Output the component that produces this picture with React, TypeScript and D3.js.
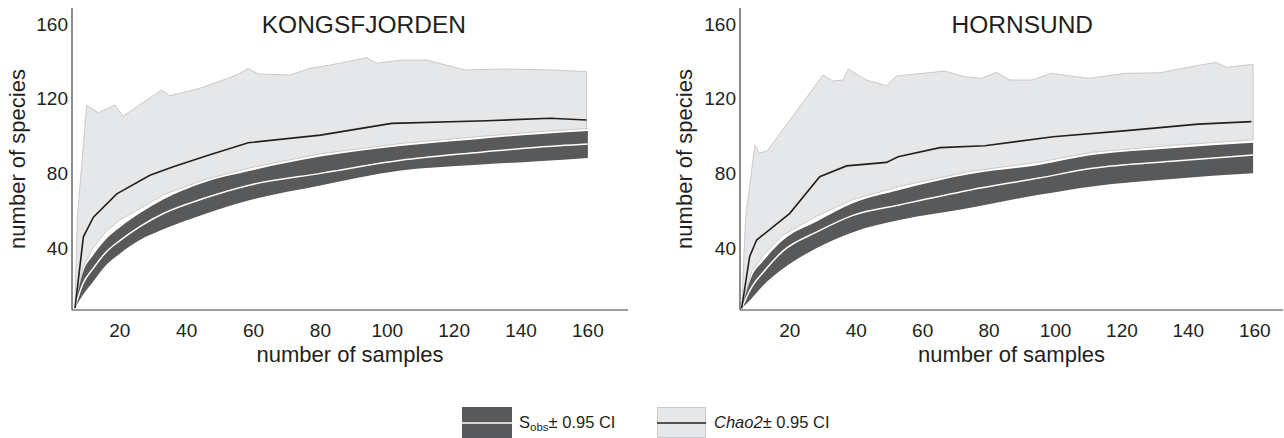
import * as d3 from 'd3';

// ---- data ----
const xTicks = [20, 40, 60, 80, 100, 120, 140, 160];
const yTicks = [40, 80, 120, 160];

// Kongsfjorden
const kSobsX = [6.5, 9, 12, 16, 20, 26, 33, 45, 59, 80, 104, 126, 145, 160];
const kSobsUpper = [7.8, 27, 36, 45, 51, 58.6, 66, 75, 81.4, 89, 94.7, 98.2, 101, 102.7];
const kSobsMean = [7.8, 21, 29, 38, 44, 51.5, 58.5, 66.5, 73.8, 80, 87, 91, 94, 95.7];
const kSobsLower = [7.8, 15, 22, 31, 37, 44.3, 50, 58, 65.7, 73.5, 81.5, 84.5, 86.5, 88.3];
const kChaoLower = [7.8, 30, 40, 49, 55, 61, 68.5, 76.5, 83, 90.5, 96, 99.5, 102.3, 104];
const kChaoUpperX = [6.6, 7.3, 10.1, 13.6, 18.5, 21, 32.5, 35, 44, 55, 58.4, 61.4, 70.9, 76.9, 82.9, 93.8, 96.8, 104.3, 111.8, 123.2, 135.2, 149.2, 159.6];
const kChaoUpper = [7.8, 56.6, 116.6, 112.5, 116.6, 110.7, 124.7, 121.6, 125.6, 132.7, 136.3, 133.2, 132.7, 136.3, 138, 142, 139, 140.7, 140.7, 135.4, 135.9, 135.4, 134.5];
const kChaoMeanX = [6.6, 9.1, 12.1, 19.1, 29, 36, 46, 58.4, 80, 101.3, 129.7, 148.7, 159.6];
const kChaoMean = [7.8, 46, 56.5, 69, 79, 83.6, 89.5, 96.4, 100.5, 106.8, 108.2, 109.5, 108.6];

// Hornsund
const hSobsX = [5.5, 8.5, 12, 18, 28, 39, 53, 74, 95, 111, 135, 159.5];
const hSobsUpper = [7.7, 24.6, 33, 44.3, 54.1, 64, 71.1, 79.5, 84.5, 89.8, 93.5, 96.4];
const hSobsMean = [7.7, 19, 27, 38.5, 48.5, 57.5, 63.1, 71, 77.5, 82.7, 86.5, 89.8];
const hSobsLower = [7.7, 13, 20, 29, 39.9, 48.5, 55, 61.5, 68.5, 73, 77, 80];
const hChaoLower = [7.7, 27.5, 36, 47, 57, 66, 73, 81, 86, 91.3, 95, 98];
const hChaoUpperX = [5.5, 6.7, 9.5, 10.8, 13.2, 30, 32.9, 36, 37.6, 43.1, 49.1, 52.1, 66.7, 72.7, 77.7, 82.3, 86.3, 92.8, 98.8, 109.9, 121.4, 131.4, 142.5, 148.3, 151.5, 159.5];
const hChaoUpper = [7.7, 56.8, 95.2, 91, 92, 132.7, 129.5, 130, 135.9, 130, 127, 132.2, 134.8, 131.8, 130.9, 134.1, 130, 130, 133.6, 130.9, 133.6, 133.9, 137.7, 139.5, 136.8, 138.4];
const hChaoMeanX = [5.5, 7.9, 10, 20, 29, 37.1, 49.1, 52.6, 65.2, 78.7, 99.3, 121.4, 143, 159];
const hChaoMean = [7.7, 35.4, 44.3, 58.6, 78.2, 84, 85.9, 88.9, 93.8, 94.8, 99.6, 102.9, 106.4, 107.7];

const DARK = '#58595b';
const LIGHT = '#e6e7e8';
const LIGHT_EDGE = '#c9cacc';
const INK = '#231f20';
const FONT = '"Liberation Sans", Arial, sans-serif';

function interp(xs, ys, x) {
  // closes the Chao band at the last x of its upper edge
  return d3.scaleLinear().domain(xs).range(ys).clamp(true)(x);
}

function Panel({ title, titleAt, left, right, xMin, xMax, labelX, sobsX, sobsUpper, sobsMean, sobsLower, chaoLower, chaoUpperX, chaoUpper, chaoMeanX, chaoMean }) {
  const x = d3.scaleLinear().domain([xMin, xMax]).range([left, right]);
  const y = d3.scaleLinear().domain([6.8, 168.6]).range([310, 8]);

  // chao band: upper edge on its own grid, lower edge on the sobs grid
  const upperPts = chaoUpperX.map((v, i) => [x(v), y(chaoUpper[i])]);
  const lowerPts = sobsX.map((v, i) => [x(v), y(chaoLower[i])]).reverse();
  const lastX = chaoUpperX[chaoUpperX.length - 1];
  const chaoPath = d3.line()([...upperPts, [x(lastX), y(interp(sobsX, chaoLower, lastX))], ...lowerPts]) + 'Z';

  const band = d3
    .area()
    .x((d) => x(d[0]))
    .y0((d) => y(d[2]))
    .y1((d) => y(d[1]))
    .curve(d3.curveMonotoneX);
  const sobsRows = sobsX.map((v, i) => [v, sobsUpper[i], sobsLower[i]]);
  const meanLine = d3.line().x((d) => x(d[0])).y((d) => y(d[1])).curve(d3.curveMonotoneX);
  const chaoLine = d3.line().x((d) => x(d[0])).y((d) => y(d[1]));

  return (
    <g>
      <path d={chaoPath} fill={LIGHT} stroke={LIGHT_EDGE} strokeWidth={1} strokeLinejoin="round" />
      <path d={band(sobsRows)} fill={DARK} />
      <path d={meanLine(sobsX.map((v, i) => [v, sobsMean[i]]))} fill="none" stroke="#fff" strokeWidth={1.5} />
      <path d={chaoLine(chaoMeanX.map((v, i) => [v, chaoMean[i]]))} fill="none" stroke={INK} strokeWidth={1.6} />

      {/* axes */}
      <line x1={left} x2={left} y1={8} y2={310} stroke="#414042" strokeWidth={1.2} />
      <line x1={left} x2={right} y1={310} y2={310} stroke="#414042" strokeWidth={1.2} />
      {yTicks.map((t) => (
        <text key={t} x={left - 4} y={y(t)} dy="0.35em" textAnchor="end" fontSize={19} fill={INK} fontFamily={FONT}>
          {t}
        </text>
      ))}
      {xTicks.map((t) => (
        <text key={t} x={x(t)} y={337} textAnchor="middle" fontSize={19} fill={INK} fontFamily={FONT}>
          {t}
        </text>
      ))}
      <text x={(left + right) / 2} y={362} textAnchor="middle" fontSize={22} fill={INK} fontFamily={FONT}>
        number of samples
      </text>
      <text transform={`translate(${labelX},159) rotate(-90)`} textAnchor="middle" fontSize={22} fill={INK} fontFamily={FONT}>
        number of species
      </text>
      <text x={x(titleAt)} y={33} textAnchor="middle" fontSize={24.5} fill={INK} fontFamily={FONT}>
        {title}
      </text>
    </g>
  );
}

export default function App() {
  return (
    <div style={{ position: 'absolute', left: 0, top: 0 }}>
      <svg width={1284} height={438} style={{ display: 'block', background: '#fff' }}>
        <Panel
          title="KONGSFJORDEN"
          titleAt={93}
          left={72}
          right={628}
          xMin={5.7}
          xMax={172}
          labelX={25}
          sobsX={kSobsX}
          sobsUpper={kSobsUpper}
          sobsMean={kSobsMean}
          sobsLower={kSobsLower}
          chaoLower={kChaoLower}
          chaoUpperX={kChaoUpperX}
          chaoUpper={kChaoUpper}
          chaoMeanX={kChaoMeanX}
          chaoMean={kChaoMean}
        />
        <Panel
          title="HORNSUND"
          titleAt={90}
          left={740}
          right={1283}
          xMin={5}
          xMax={168.5}
          labelX={692}
          sobsX={hSobsX}
          sobsUpper={hSobsUpper}
          sobsMean={hSobsMean}
          sobsLower={hSobsLower}
          chaoLower={hChaoLower}
          chaoUpperX={hChaoUpperX}
          chaoUpper={hChaoUpper}
          chaoMeanX={hChaoMeanX}
          chaoMean={hChaoMean}
        />

        {/* legend */}
        <g fontFamily={FONT} fill={INK}>
          <rect x={462} y={407} width={50} height={31} fill={DARK} />
          <line x1={462} x2={512} y1={423} y2={423} stroke="#fff" strokeWidth={1.5} />
          <text x={519} y={428} fontSize={16.5}>
            S<tspan fontSize={11.5} dy={3}>obs</tspan>
            <tspan dy={-3}>± 0.95 CI</tspan>
          </text>
          <rect x={657.5} y={407.5} width={48} height={30} fill={LIGHT} stroke={LIGHT_EDGE} />
          <line x1={657} x2={706} y1={423} y2={423} stroke={INK} strokeWidth={1.5} />
          <text x={714} y={428} fontSize={16.5}>
            <tspan fontStyle="italic">Chao2</tspan>± 0.95 CI
          </text>
        </g>
      </svg>
    </div>
  );
}
